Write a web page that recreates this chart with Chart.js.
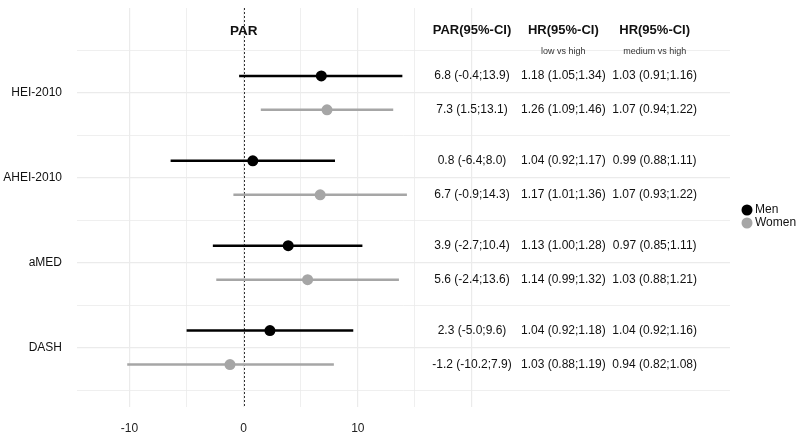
<!DOCTYPE html>
<html lang="en">
<head>
<meta charset="UTF-8">
<title>PAR forest plot</title>
<script src="https://cdn.jsdelivr.net/npm/chart.js"></script>
<style>
    body { margin: 0; background: #fff; }
    #chart { display: block; }
</style>
</head>
<body>
<canvas id="chart" width="800" height="435"></canvas>
<script>
// diet scores, top to bottom
const scores = ['HEI-2010', 'AHEI-2010', 'aMED', 'DASH'];

// PAR (%) with 95% CI
const menPar = [6.8, 0.8, 3.9, 2.3];
const menLo = [-0.4, -6.4, -2.7, -5.0];
const menHi = [13.9, 8.0, 10.4, 9.6];
const womenPar = [7.3, 6.7, 5.6, -1.2];
const womenLo = [1.5, -0.9, -2.4, -10.2];
const womenHi = [13.1, 14.3, 13.6, 7.9];

// HR (95% CI) text columns
const menHrLow = ['1.18 (1.05;1.34)', '1.04 (0.92;1.17)', '1.13 (1.00;1.28)', '1.04 (0.92;1.18)'];
const menHrMed = ['1.03 (0.91;1.16)', '0.99 (0.88;1.11)', '0.97 (0.85;1.11)', '1.04 (0.92;1.16)'];
const womenHrLow = ['1.26 (1.09;1.46)', '1.17 (1.01;1.36)', '1.14 (0.99;1.32)', '1.03 (0.88;1.19)'];
const womenHrMed = ['1.07 (0.94;1.22)', '1.07 (0.93;1.22)', '1.03 (0.88;1.21)', '0.94 (0.82;1.08)'];

// x ticks shown / grid
const xTickLabels = [-10, 0, 10];
const xGrid = [-10, -5, 0, 5, 10, 15, 20];

const MEN = '#000000';
const WOMEN = '#a6a6a6';
const FONT = '"Liberation Sans", Arial, sans-serif';

const catY = i => scores.length - i;   // HEI-2010 -> 4 ... DASH -> 1
const fmt = v => v.toFixed(1);

// build datasets
const datasets = [];
scores.forEach((s, i) => {
    datasets.push({
        type: 'line', order: 2, borderColor: MEN, borderWidth: 2.5, pointRadius: 0,
        data: [{ x: menLo[i], y: catY(i) + 0.2 }, { x: menHi[i], y: catY(i) + 0.2 }]
    });
    datasets.push({
        type: 'line', order: 2, borderColor: WOMEN, borderWidth: 2.5, pointRadius: 0,
        data: [{ x: womenLo[i], y: catY(i) - 0.2 }, { x: womenHi[i], y: catY(i) - 0.2 }]
    });
});
datasets.push({
    type: 'scatter', order: 0, label: 'Men', pointRadius: 5.5, pointBackgroundColor: MEN, pointBorderWidth: 0,
    data: menPar.map((v, i) => ({ x: v, y: catY(i) + 0.2 }))
});
datasets.push({
    type: 'scatter', order: 1, label: 'Women', pointRadius: 5.5, pointBackgroundColor: WOMEN, pointBorderWidth: 0,
    data: womenPar.map((v, i) => ({ x: v, y: catY(i) - 0.2 }))
});

// zero line, text columns, legend
const extras = {
    id: 'extras',
    beforeDatasetsDraw(chart) {
        const { ctx, chartArea, scales } = chart;
        const x0 = Math.round(scales.x.getPixelForValue(0)) + 0.5;
        ctx.save();
        ctx.strokeStyle = '#333';
        ctx.lineWidth = 1;
        ctx.setLineDash([2, 2]);
        ctx.beginPath();
        ctx.moveTo(x0, chartArea.top);
        ctx.lineTo(x0, chartArea.bottom);
        ctx.stroke();
        ctx.restore();
    },
    afterDatasetsDraw(chart) {
        const { ctx, scales } = chart;
        const X = v => scales.x.getPixelForValue(v);
        const Y = v => scales.y.getPixelForValue(v);
        ctx.save();
        ctx.fillStyle = '#111';
        ctx.textAlign = 'center';
        ctx.textBaseline = 'middle';

        ctx.font = 'bold 13.5px ' + FONT;
        ctx.fillText('PAR', X(0), Y(4.73));
        ctx.font = 'bold 13px ' + FONT;
        ctx.fillText('PAR(95%-CI)', X(20), Y(4.73));
        ctx.fillText('HR(95%-CI)', X(28), Y(4.73));
        ctx.fillText('HR(95%-CI)', X(36), Y(4.73));

        ctx.font = '9px ' + FONT;
        ctx.fillStyle = '#333';
        ctx.fillText('low vs high', X(28), Y(4.49));
        ctx.fillText('medium vs high', X(36), Y(4.49));

        ctx.font = '12px ' + FONT;
        ctx.fillStyle = '#111';
        scores.forEach((s, i) => {
            const ym = Y(catY(i) + 0.2), yw = Y(catY(i) - 0.2);
            ctx.fillText(`${fmt(menPar[i])} (${fmt(menLo[i])};${fmt(menHi[i])})`, X(20), ym);
            ctx.fillText(menHrLow[i], X(28), ym);
            ctx.fillText(menHrMed[i], X(36), ym);
            ctx.fillText(`${fmt(womenPar[i])} (${fmt(womenLo[i])};${fmt(womenHi[i])})`, X(20), yw);
            ctx.fillText(womenHrLow[i], X(28), yw);
            ctx.fillText(womenHrMed[i], X(36), yw);
        });

        // legend
        ctx.font = '12px ' + FONT;
        ctx.textAlign = 'left';
        [['Men', MEN, 210], ['Women', WOMEN, 223]].forEach(([t, c, y]) => {
            ctx.fillStyle = c;
            ctx.beginPath();
            ctx.arc(747, y, 5.5, 0, Math.PI * 2);
            ctx.fill();
            ctx.fillStyle = '#111';
            ctx.fillText(t, 755, y);
        });
        ctx.restore();
    }
};

new Chart(document.getElementById('chart').getContext('2d'), {
    data: { datasets: datasets },
    plugins: [extras],
    options: {
        responsive: false,
        animation: false,
        layout: { padding: { top: 8, right: 70, left: 0, bottom: 0 } },
        plugins: { legend: { display: false }, tooltip: { enabled: false } },
        scales: {
            x: {
                type: 'linear', min: -14.6, max: 42.6,
                border: { display: false },
                afterBuildTicks: s => { s.ticks = xGrid.map(v => ({ value: v })); },
                afterFit: s => { s.height = 28; s.paddingLeft = 0; s.paddingRight = 0; },
                grid: { color: '#ebebeb', lineWidth: c => (c.tick && c.tick.value % 10 === 0 ? 1.2 : 0.8), drawTicks: false },
                ticks: {
                    autoSkip: false, maxRotation: 0, padding: 14,
                    color: '#222', font: { family: FONT, size: 12 },
                    callback: v => (xTickLabels.includes(v) ? String(v) : '')
                }
            },
            y: {
                type: 'linear', min: 0.3, max: 5.0,
                border: { display: false },
                afterBuildTicks: s => { s.ticks = [0.5, 1, 1.5, 2, 2.5, 3, 3.5, 4, 4.5].map(v => ({ value: v })); },
                afterFit: s => { s.width = 77; s.paddingTop = 0; s.paddingBottom = 0; },
                grid: { color: '#ebebeb', lineWidth: c => (c.tick && Number.isInteger(c.tick.value) ? 1.2 : 0.8), drawTicks: false },
                ticks: {
                    autoSkip: false, padding: 15,
                    color: '#111', font: { family: FONT, size: 12 },
                    callback: v => (Number.isInteger(v) ? scores[scores.length - v] : '')
                }
            }
        }
    }
});
</script>
</body>
</html>
